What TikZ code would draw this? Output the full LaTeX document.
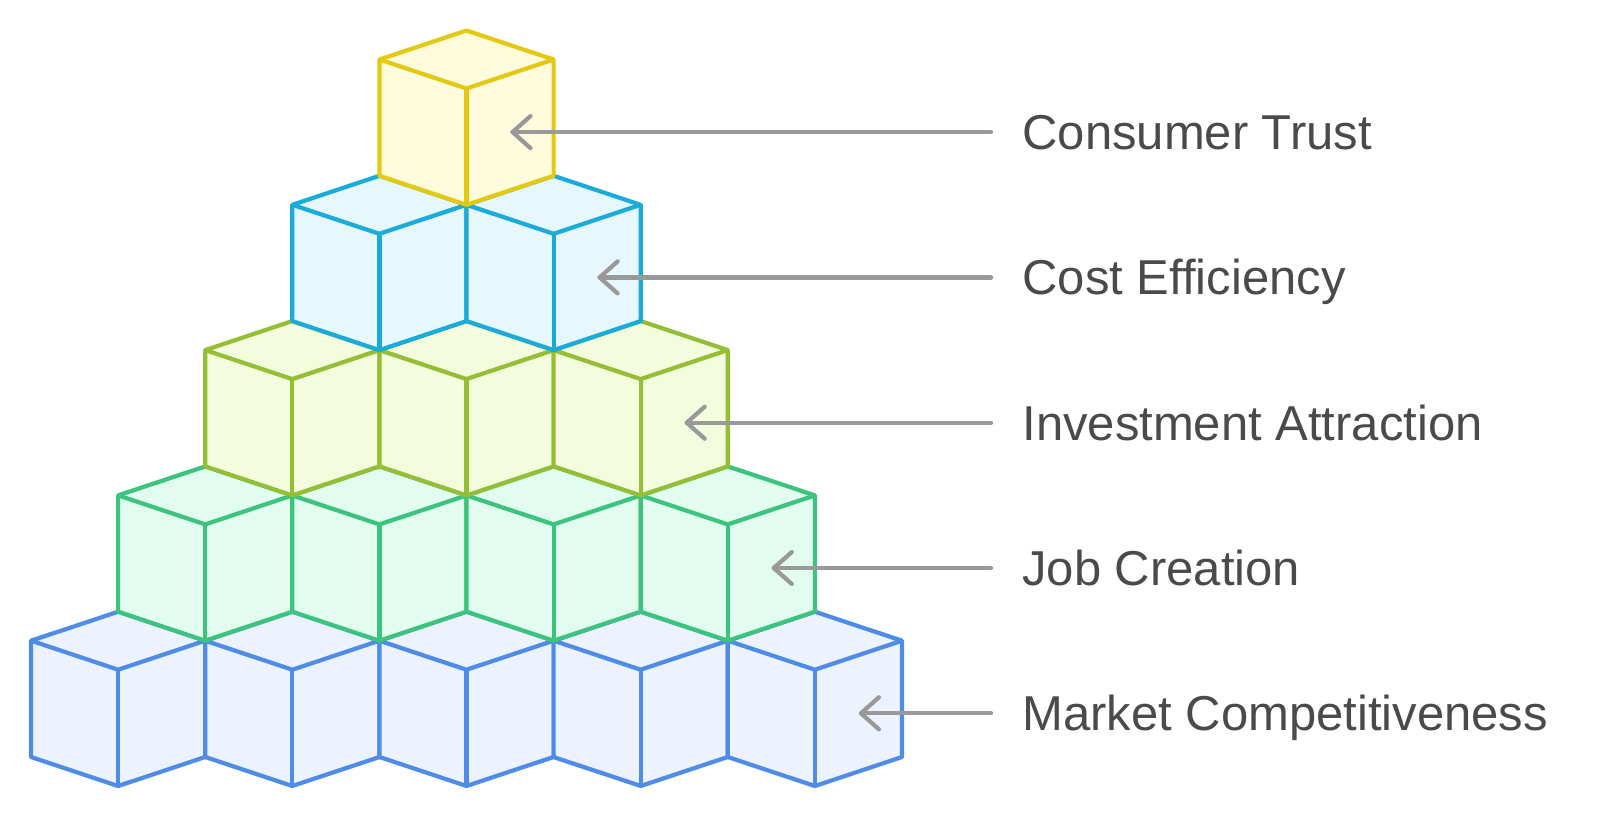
\documentclass[tikz,border=0pt]{standalone}
\usepackage{fontspec}
\setmainfont{Liberation Sans}
\usetikzlibrary{calc}
\definecolor{bS}{HTML}{4F8CE8}\definecolor{bF}{HTML}{EDF3FE}
\definecolor{gS}{HTML}{3CC47F}\definecolor{gF}{HTML}{E2FCEF}
\definecolor{oS}{HTML}{93BE35}\definecolor{oF}{HTML}{F3FDDD}
\definecolor{cS}{HTML}{1AABD9}\definecolor{cF}{HTML}{E6F7FD}
\definecolor{yS}{HTML}{E3C911}\definecolor{yF}{HTML}{FFFBDD}
\definecolor{arrowgray}{HTML}{999999}
\definecolor{txt}{HTML}{4A4A4A}
\newcommand\ca{87.1}
\newcommand\cb{29}
\newcommand\ch{116.3}
\newcommand\drawcube[4]{%
  \filldraw[cubeline,draw=#3,fill=#4] (#1,#2) -- ++(\ca,-\cb) -- ++(\ca,\cb) -- ++(0,\ch) -- ++(-\ca,\cb) -- ++(-\ca,-\cb) -- cycle;
  \draw[cubeline,draw=#3] (#1,#2) -- ++(\ca,\cb) -- ++(\ca,-\cb);
  \draw[cubeline,draw=#3] ($(#1,#2)+(\ca,\cb)$) -- ++(0,\ch);
}
\tikzset{
  cubeline/.style={line width=2.1pt,line join=round},
  conn/.style={draw=arrowgray,line width=2.1pt,line cap=round,line join=round},
  lbl/.style={anchor=base west,inner sep=0pt,text=txt,font=\fontsize{24.5}{30}\selectfont}
}
\begin{document}
\begin{tikzpicture}[x=0.5pt,y=-0.5pt]
\useasboundingbox (0,0) rectangle (1600,818);
\foreach \r/\n/\s/\f in {0/5/bS/bF,1/4/gS/gF,2/3/oS/oF,3/2/cS/cF,4/1/yS/yF}{
  \foreach \i in {1,...,\n}{
    \pgfmathsetmacro\cx{31+\r*87.1+(\i-1)*174.2}
    \pgfmathsetmacro\cy{640.7-\r*145.3}
    \drawcube{\cx}{\cy}{\s}{\f}
  }
}
\foreach \r/\t in {0/Market Competitiveness,1/Job Creation,2/Investment Attraction,3/Cost Efficiency,4/Consumer Trust}{
  \pgfmathsetmacro\ay{640.7-\r*145.3+72.6}
  \pgfmathsetmacro\tx{31+\r*87.1+(4-\r)*174.2+87.1+46}
  \coordinate (tip\r) at (\tx,\ay);
  \coordinate (tail\r) at (991,\ay);
  \node[lbl] (label\r) at (1022,\ay+17.5) {\t};
  \draw[conn] (tail\r) -- (tip\r);
  \draw[conn] ($(tip\r)+(18,-16)$) -- (tip\r) -- ($(tip\r)+(18,16)$);
}
\end{tikzpicture}
\end{document}
